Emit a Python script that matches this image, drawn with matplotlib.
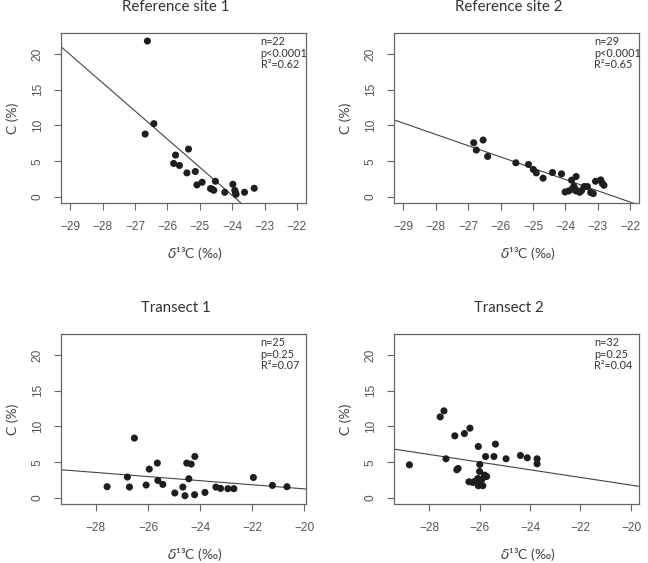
import matplotlib
matplotlib.use('Agg')
import matplotlib.pyplot as plt

# δ13C (x) and C % (y) for each panel
ref1_d13c = [-26.62, -26.42, -26.69, -25.35, -25.75, -25.81, -25.63, -25.40, -25.14, -25.09, -24.93,
             -24.67, -24.57, -24.62, -24.52, -24.23, -23.98, -23.92, -23.88, -23.90, -23.62, -23.32]
ref1_c = [21.8, 10.25, 8.8, 6.70, 5.86, 4.69, 4.41, 3.37, 3.56, 1.69, 2.06,
          1.18, 0.94, 1.10, 2.20, 0.66, 1.78, 0.94, 0.38, 0.60, 0.66, 1.22]

ref2_d13c = [-26.83, -26.54, -26.75, -26.40, -25.53, -25.14, -24.99, -24.90, -24.69, -24.40, -24.12,
             -23.81, -23.67, -24.01, -23.90, -23.80, -23.74, -23.67, -23.56, -23.42, -23.32, -23.22,
             -23.14, -23.07, -22.91, -22.81, -23.70, -23.50, -22.86]
ref2_c = [7.58, 7.96, 6.56, 5.67, 4.78, 4.55, 3.85, 3.37, 2.63, 3.42, 3.23,
          2.35, 2.86, 0.70, 0.84, 1.08, 1.50, 0.84, 0.66, 1.46, 1.46, 0.62,
          0.48, 2.20, 2.39, 1.64, 1.10, 0.90, 1.90]

tr1_d13c = [-27.57, -26.79, -26.71, -26.52, -26.07, -25.95, -25.64, -25.62, -25.43, -24.97, -24.66,
            -24.58, -24.51, -24.34, -24.43, -24.20, -24.21, -23.81, -23.39, -23.21, -22.93, -22.70,
            -21.95, -21.22, -20.66]
tr1_c = [1.58, 2.93, 1.53, 8.37, 1.81, 4.04, 4.88, 2.45, 1.90, 0.70, 1.53,
         0.32, 4.88, 4.74, 2.69, 5.80, 0.46, 0.78, 1.53, 1.34, 1.30, 1.30,
         2.87, 1.76, 1.58]

tr2_d13c = [-28.78, -27.56, -27.41, -27.33, -26.98, -26.90, -26.85, -26.60, -26.38, -26.42, -26.27,
            -26.05, -25.99, -26.00, -26.07, -25.99, -25.92, -25.87, -25.82, -25.72, -25.76, -26.05,
            -25.43, -25.37, -24.95, -24.38, -24.11, -23.72, -23.72, -26.20, -25.80, -25.95]
tr2_c = [4.64, 11.34, 12.18, 5.48, 8.69, 3.95, 4.13, 9.01, 9.76, 2.27, 2.18,
         7.20, 4.69, 3.71, 2.73, 2.32, 2.55, 1.72, 2.93, 3.01, 5.80, 1.72,
         5.80, 7.53, 5.48, 5.94, 5.62, 5.48, 4.78, 2.30, 3.20, 2.00]

titles = ['Reference site 1', 'Reference site 2', 'Transect 1', 'Transect 2']
n_labels = ['n=22', 'n=29', 'n=25', 'n=32']
p_labels = ['p<0.0001', 'p<0.0001', 'p=0.25', 'p=0.25']
r2_labels = ['R²=0.62', 'R²=0.65', 'R²=0.07', 'R²=0.04']

# regression lines: intercept, slope
intercepts = [-94.1, -35.38, -4.44, -8.92]
slopes = [-3.93, -1.576, -0.286, -0.536]

xs = [ref1_d13c, ref2_d13c, tr1_d13c, tr2_d13c]
ys = [ref1_c, ref2_c, tr1_c, tr2_c]

W, H = 648, 563
fig = plt.figure(figsize=(W / 100, H / 100), dpi=100)

# axes boxes in pixels: left, top, width, height
boxes = [(61, 33.3, 245, 170), (394, 33.3, 245.3, 170),
         (61, 334.3, 245, 170), (394, 334.3, 245.3, 170)]
xlims = [(-29.29, -21.72), (-29.29, -21.72), (-29.34, -19.93), (-29.39, -19.67)]
xticks = [range(-29, -21), range(-29, -21), range(-28, -19, 2), range(-28, -19, 2)]

tfont = ['Lato', 'DejaVu Sans']
nfont = ['Liberation Sans', 'DejaVu Sans']
gray = '#666666'

for i in range(4):
    l, t, w, h = boxes[i]
    ax = fig.add_axes([l / W, 1 - (t + h) / H, w / W, h / H])
    ax.scatter(xs[i], ys[i], s=26, color='#1e1e1e', edgecolors='none', zorder=3)
    ax.axline((0, intercepts[i]), slope=slopes[i], color='#444444', lw=0.8)
    ax.set_xlim(*xlims[i])
    ax.set_ylim(-0.88, 22.88)
    ax.set_xticks(list(xticks[i]))
    ax.set_yticks([0, 5, 10, 15, 20])
    ax.set_xticklabels(['\u2212%d' % abs(v) for v in xticks[i]])
    for s in ax.spines.values():
        s.set_color(gray)
        s.set_linewidth(0.9)
    ax.tick_params(direction='out', length=5, width=0.8, color=gray, pad=7.5,
                   labelsize=8.6, labelcolor='#555555')
    for lab in ax.get_xticklabels() + ax.get_yticklabels():
        lab.set_family(nfont)
    for lab in ax.get_yticklabels():
        lab.set_rotation(90)
        lab.set_va('center')

    ax.set_title(titles[i], x=0.467, pad=16, fontsize=10.8, family=tfont, color='#333333')
    ax.text(0.815, 0.951, n_labels[i], transform=ax.transAxes, va='center', fontsize=7.8,
            family=tfont, color='#333333')
    ax.text(0.815, 0.882, p_labels[i], transform=ax.transAxes, va='center', fontsize=7.8,
            family=tfont, color='#333333')
    ax.text(0.815, 0.814, r2_labels[i], transform=ax.transAxes, va='center', fontsize=7.8,
            family=tfont, color='#333333')
    ax.text(0.547, -50 / 170, r'$\delta$¹³C (‰)', transform=ax.transAxes, ha='center',
            va='center', fontsize=10, family=tfont, color='#444444')
    ax.text(-0.197, 0.5, 'C (%)', transform=ax.transAxes, ha='center', va='center',
            rotation=90, fontsize=10, family=tfont, color='#444444')

fig.savefig('out.png', dpi=100)
